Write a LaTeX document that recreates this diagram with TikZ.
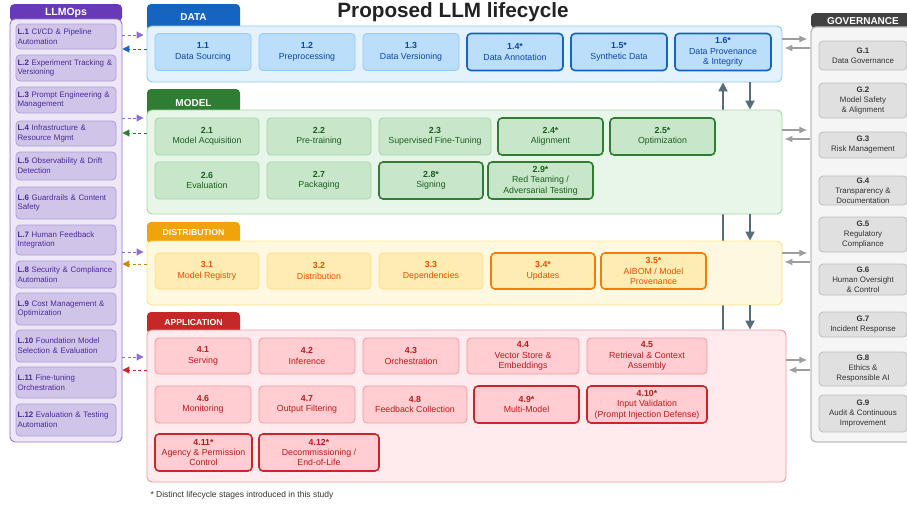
\documentclass[tikz,border=0pt]{standalone}
\usepackage{fontspec}
\setmainfont{Liberation Sans}
\usetikzlibrary{arrows.meta}

\definecolor{titlegray}{HTML}{222222}
\definecolor{opsdark}{HTML}{673AB7}
\definecolor{opspanel}{HTML}{EDE7F6}
\definecolor{opsline}{HTML}{9575CD}
\definecolor{opsfill}{HTML}{D1C4E9}
\definecolor{opsboxline}{HTML}{B39DDB}
\definecolor{opstext}{HTML}{4A2A9A}
\definecolor{opsarrow}{HTML}{8E6FD6}
\definecolor{datadark}{HTML}{1565C0}
\definecolor{datapanel}{HTML}{E3F2FD}
\definecolor{dataline}{HTML}{90CAF9}
\definecolor{datafill}{HTML}{BBDEFB}
\definecolor{datatext}{HTML}{0D47A1}
\definecolor{modeldark}{HTML}{2E7D32}
\definecolor{modelpanel}{HTML}{E8F5E9}
\definecolor{modelline}{HTML}{A5D6A7}
\definecolor{modelfill}{HTML}{C8E6C9}
\definecolor{modeltext}{HTML}{1B5E20}
\definecolor{disttab}{HTML}{F0A30A}
\definecolor{distdark}{HTML}{F57C00}
\definecolor{distpanel}{HTML}{FFF8E1}
\definecolor{distline}{HTML}{FFE082}
\definecolor{distfill}{HTML}{FFECB3}
\definecolor{disttext}{HTML}{E65100}
\definecolor{distarrow}{HTML}{C98A0A}
\definecolor{appdark}{HTML}{C62828}
\definecolor{apppanel}{HTML}{FFEBEE}
\definecolor{appline}{HTML}{EF9A9A}
\definecolor{appfill}{HTML}{FFCDD2}
\definecolor{apptext}{HTML}{B71C1C}
\definecolor{govdark}{HTML}{424242}
\definecolor{govpanel}{HTML}{F5F5F5}
\definecolor{govline}{HTML}{BDBDBD}
\definecolor{govfill}{HTML}{E0E0E0}
\definecolor{govtext}{HTML}{333333}
\definecolor{govarrow}{HTML}{9E9E9E}
\definecolor{flowgray}{HTML}{546E7A}

\pgfdeclarelayer{background}
\pgfsetlayers{background,main}

\tikzset{
  tabbox/.style={rounded corners=4pt, text=white, inner sep=0pt, minimum width=93pt},
  panel/.style={draw, rounded corners=5pt, line width=0.9pt, inner sep=0pt},
  stage/.style={draw, rounded corners=4pt, line width=0.8pt, align=center, inner sep=0pt,
                minimum height=37pt, font=\fontsize{8.8}{10.4}\selectfont},
  databox/.style={stage, fill=datafill, draw=dataline, text=datatext, minimum width=96pt},
  datanew/.style={databox, draw=datadark, line width=1.6pt},
  modelbox/.style={stage, fill=modelfill, draw=modelline, text=modeltext, minimum width=104pt},
  modelnew/.style={modelbox, draw=modeldark, line width=1.6pt},
  distbox/.style={stage, fill=distfill, draw=distline, text=disttext, minimum width=104pt, minimum height=36pt},
  distnew/.style={distbox, draw=distdark, line width=1.6pt},
  appbox/.style={stage, fill=appfill, draw=appline, text=apptext, minimum width=96pt},
  appnew/.style={appbox, draw=appdark, line width=1.6pt},
  opsbox/.style={draw=opsboxline, fill=opsfill, text=opstext, rounded corners=4pt, line width=0.8pt,
                 align=left, text width=97pt, inner xsep=1.5pt, inner ysep=0pt, minimum width=100pt,
                 font=\fontsize{7.9}{9.7}\selectfont},
  govbox/.style={draw=govline, fill=govfill, text=govtext, rounded corners=4pt, line width=0.8pt,
                 align=center, inner sep=0pt, minimum width=88pt, font=\fontsize{7.9}{10}\selectfont},
  opsto/.style={draw=opsarrow, line width=1pt, dash pattern=on 3pt off 2.5pt,
                -{Triangle[length=7pt,width=7pt]}, shorten >=3pt},
  opsback/.style={line width=1pt, dash pattern=on 3pt off 2.5pt, -{Triangle[length=7pt,width=7pt]}},
  govto/.style={draw=govarrow, line width=1.1pt, -{Latex[length=8pt,width=7pt]}},
  flow/.style={draw=flowgray, line width=2pt, -{Triangle[length=9pt,width=9pt]}}
}

\begin{document}
\begin{tikzpicture}[x=1pt,y=-1pt]
\useasboundingbox (0,0) rectangle (907,506);
\clip (0,0) rectangle (907,506);

% title
\node[font=\bfseries\fontsize{20.7}{24}\selectfont, text=titlegray] (title) at (453,12.5) {Proposed LLM lifecycle};

% LLMOps column
\node[tabbox, fill=opsdark, minimum width=112pt, minimum height=17pt,
      font=\bfseries\fontsize{10.5}{12}\selectfont] (opstab) at (66,12.7) {LLMOps};
\node[panel, fill=opspanel, draw=opsline, minimum width=112pt, minimum height=423pt] (ops) at (66,230.5) {};
\node[opsbox, minimum height=25pt] (l1) at (66,36.5) {\textbf{L.1} CI/CD \& Pipeline\\Automation};
\node[opsbox, minimum height=26pt] (l2) at (66,68) {\textbf{L.2} Experiment Tracking \&\\Versioning};
\node[opsbox, minimum height=26pt] (l3) at (66,100) {\textbf{L.3} Prompt Engineering \&\\Management};
\node[opsbox, minimum height=25pt] (l4) at (66,133.5) {\textbf{L.4} Infrastructure \&\\Resource Mgmt};
\node[opsbox, minimum height=28pt] (l5) at (66,166) {\textbf{L.5} Observability \& Drift\\Detection};
\node[opsbox, minimum height=32pt] (l6) at (66,203) {\textbf{L.6} Guardrails \& Content\\Safety};
\node[opsbox, minimum height=30pt] (l7) at (66,240) {\textbf{L.7} Human Feedback\\Integration};
\node[opsbox, minimum height=27pt] (l8) at (66,274.5) {\textbf{L.8} Security \& Compliance\\Automation};
\node[opsbox, minimum height=32pt] (l9) at (66,309) {\textbf{L.9} Cost Management \&\\Optimization};
\node[opsbox, minimum height=32pt] (l10) at (66,346) {\textbf{L.10} Foundation Model\\Selection \& Evaluation};
\node[opsbox, minimum height=31pt] (l11) at (66,382.5) {\textbf{L.11} Fine-tuning\\Orchestration};
\node[opsbox, minimum height=32pt] (l12) at (66,420) {\textbf{L.12} Evaluation \& Testing\\Automation};

% DATA
\node[tabbox, fill=datadark, minimum height=26.6pt, font=\bfseries\fontsize{10}{12}\selectfont] (datatab) at (193.5,17.3) {DATA};
\node[panel, fill=datapanel, draw=dataline, minimum width=635pt, minimum height=56pt] (data) at (464.5,54) {};
\node[databox] (d1) at (203,52) {\textbf{1.1}\\Data Sourcing};
\node[databox] (d2) at (307,52) {\textbf{1.2}\\Preprocessing};
\node[databox] (d3) at (411,52) {\textbf{1.3}\\Data Versioning};
\node[datanew] (d4) at (515,52) {\textbf{1.4*}\\Data Annotation};
\node[datanew] (d5) at (619,52) {\textbf{1.5*}\\Synthetic Data};
\node[datanew] (d6) at (723,52) {\textbf{1.6*}\\Data Provenance\\\& Integrity};

% MODEL
\node[tabbox, fill=modeldark, minimum height=28pt, font=\bfseries\fontsize{10}{12}\selectfont] (modeltab) at (193.5,103) {MODEL};
\node[panel, fill=modelpanel, draw=modelline, minimum width=635pt, minimum height=104pt] (model) at (464.5,162) {};
\node[modelbox] (m1) at (207,136.5) {\textbf{2.1}\\Model Acquisition};
\node[modelbox] (m2) at (319,136.5) {\textbf{2.2}\\Pre-training};
\node[modelbox, minimum width=112pt] (m3) at (435,136.5) {\textbf{2.3}\\Supervised Fine-Tuning};
\node[modelnew, minimum width=105pt] (m4) at (550.5,136.5) {\textbf{2.4*}\\Alignment};
\node[modelnew, minimum width=105pt] (m5) at (662.5,136.5) {\textbf{2.5*}\\Optimization};
\node[modelbox] (m6) at (207,180.5) {\textbf{2.6}\\Evaluation};
\node[modelbox] (m7) at (319,180.5) {\textbf{2.7}\\Packaging};
\node[modelnew] (m8) at (431,180.5) {\textbf{2.8*}\\Signing};
\node[modelnew, minimum width=105pt] (m9) at (540.5,180.5) {\textbf{2.9*}\\Red Teaming /\\Adversarial Testing};

% DISTRIBUTION
\node[tabbox, fill=disttab, minimum height=22pt, font=\bfseries\fontsize{8.7}{10}\selectfont] (disttab) at (193.5,233) {DISTRIBUTION};
\node[panel, fill=distpanel, draw=distline, minimum width=635pt, minimum height=64pt] (dist) at (464.5,273) {};
\node[distbox] (s1) at (207,271) {\textbf{3.1}\\Model Registry};
\node[distbox] (s2) at (319,271) {\textbf{3.2}\\Distribution};
\node[distbox] (s3) at (431,271) {\textbf{3.3}\\Dependencies};
\node[distnew] (s4) at (543,271) {\textbf{3.4*}\\Updates};
\node[distnew, minimum width=105pt] (s5) at (653.5,271) {\textbf{3.5*}\\AIBOM / Model\\Provenance};

% APPLICATION
\node[tabbox, fill=appdark, minimum height=22pt, font=\bfseries\fontsize{8.7}{10}\selectfont] (apptab) at (193.5,323) {APPLICATION};
\node[panel, fill=apppanel, draw=appline, minimum width=639pt, minimum height=152pt] (app) at (466.5,406) {};
\node[appbox, minimum height=36pt] (a1) at (203,356) {\textbf{4.1}\\Serving};
\node[appbox, minimum height=36pt] (a2) at (307,356) {\textbf{4.2}\\Inference};
\node[appbox, minimum height=36pt] (a3) at (411,356) {\textbf{4.3}\\Orchestration};
\node[appbox, minimum height=36pt, minimum width=112pt] (a4) at (523,356) {\textbf{4.4}\\Vector Store \&\\Embeddings};
\node[appbox, minimum height=36pt, minimum width=120pt] (a5) at (647,356) {\textbf{4.5}\\Retrieval \& Context\\Assembly};
\node[appbox] (a6) at (203,404.5) {\textbf{4.6}\\Monitoring};
\node[appbox] (a7) at (307,404.5) {\textbf{4.7}\\Output Filtering};
\node[appbox, minimum width=104pt] (a8) at (415,404.5) {\textbf{4.8}\\Feedback Collection};
\node[appnew, minimum width=105pt] (a9) at (526.5,404.5) {\textbf{4.9*}\\Multi-Model};
\node[appnew, minimum width=120pt] (a10) at (647,404.5) {\textbf{4.10*}\\Input Validation\\(Prompt Injection Defense)};
\node[appnew, minimum width=97pt] (a11) at (203.5,452.5) {\textbf{4.11*}\\Agency \& Permission\\Control};
\node[appnew, minimum width=120pt] (a12) at (319,452.5) {\textbf{4.12*}\\Decommissioning /\\End-of-Life};

% GOVERNANCE column
\node[tabbox, fill=govdark, minimum width=104pt, minimum height=15.4pt,
      font=\bfseries\fontsize{10}{12}\selectfont] (govtab) at (863,20.7) {GOVERNANCE};
\node[panel, fill=govpanel, draw=govline, line width=1.3pt, minimum width=104pt, minimum height=415pt] (gov) at (863,234.5) {};
\node[govbox, minimum height=29pt] (g1) at (863,55.5) {\textbf{G.1}\\Data Governance};
\node[govbox, minimum height=35pt] (g2) at (863,100.5) {\textbf{G.2}\\Model Safety\\\& Alignment};
\node[govbox, minimum height=26pt] (g3) at (863,145) {\textbf{G.3}\\Risk Management};
\node[govbox, minimum height=29pt] (g4) at (863,190.5) {\textbf{G.4}\\Transparency \&\\Documentation};
\node[govbox, minimum height=35pt] (g5) at (863,234.5) {\textbf{G.5}\\Regulatory\\Compliance};
\node[govbox, minimum height=31pt] (g6) at (863,279.5) {\textbf{G.6}\\Human Oversight\\\& Control};
\node[govbox, minimum height=25pt] (g7) at (863,324.5) {\textbf{G.7}\\Incident Response};
\node[govbox, minimum height=34pt] (g8) at (863,369) {\textbf{G.8}\\Ethics \&\\Responsible AI};
\node[govbox, minimum height=37pt] (g9) at (863,413.5) {\textbf{G.9}\\Audit \& Continuous\\Improvement};

% footnote
\node[anchor=west, text=govtext, font=\fontsize{8.5}{10}\selectfont] (note) at (147,495) {* Distinct lifecycle stages introduced in this study};

% LLMOps links
\draw[opsto] (ops.east |- 0,35) -- (data.west |- 0,35);
\draw[opsback, draw=datadark, fill=datadark] (data.west |- 0,49) -- (ops.east |- 0,49);
\draw[opsto, fill=opsarrow] (ops.east |- 0,118) -- (model.west |- 0,118);
\draw[opsback, draw=modeldark] (model.west |- 0,133) -- (ops.east |- 0,133);
\draw[opsto] (ops.east |- 0,252) -- (dist.west |- 0,252);
\draw[opsback, draw=distarrow] (dist.west |- 0,264) -- (ops.east |- 0,264);
\draw[opsto] (ops.east |- 0,357) -- (app.west |- 0,357);
\draw[opsback, draw=appdark] (app.west |- 0,370) -- (ops.east |- 0,370);

% governance links
\draw[govto, shorten >=3pt] (data.east |- 0,39) -- (gov.west |- 0,39);
\draw[govto, shorten >=2pt] (gov.west |- 0,48) -- (data.east |- 0,48);
\draw[govto, shorten >=3pt] (model.east |- 0,130) -- (gov.west |- 0,130);
\draw[govto, shorten >=2pt] (gov.west |- 0,139) -- (model.east |- 0,139);
\draw[govto, shorten >=3pt] (dist.east |- 0,253) -- (gov.west |- 0,253);
\draw[govto, shorten >=2pt] (gov.west |- 0,262) -- (dist.east |- 0,262);
\draw[govto, shorten >=3pt] (app.east |- 0,360) -- (gov.west |- 0,360);
\draw[govto, shorten >=2pt] (gov.west |- 0,370) -- (app.east |- 0,370);

% flow between stages
\draw[flow] (data.south -| 750,0) -- (model.north -| 750,0);
\draw[flow] (model.south -| 750,0) -- (dist.north -| 750,0);
\draw[flow] (dist.south -| 750,0) -- (app.north -| 750,0);
\begin{pgfonlayer}{background}
\draw[flow] (app.north -| 723,0) -- (data.south -| 723,0);
\end{pgfonlayer}
\end{tikzpicture}
\end{document}
